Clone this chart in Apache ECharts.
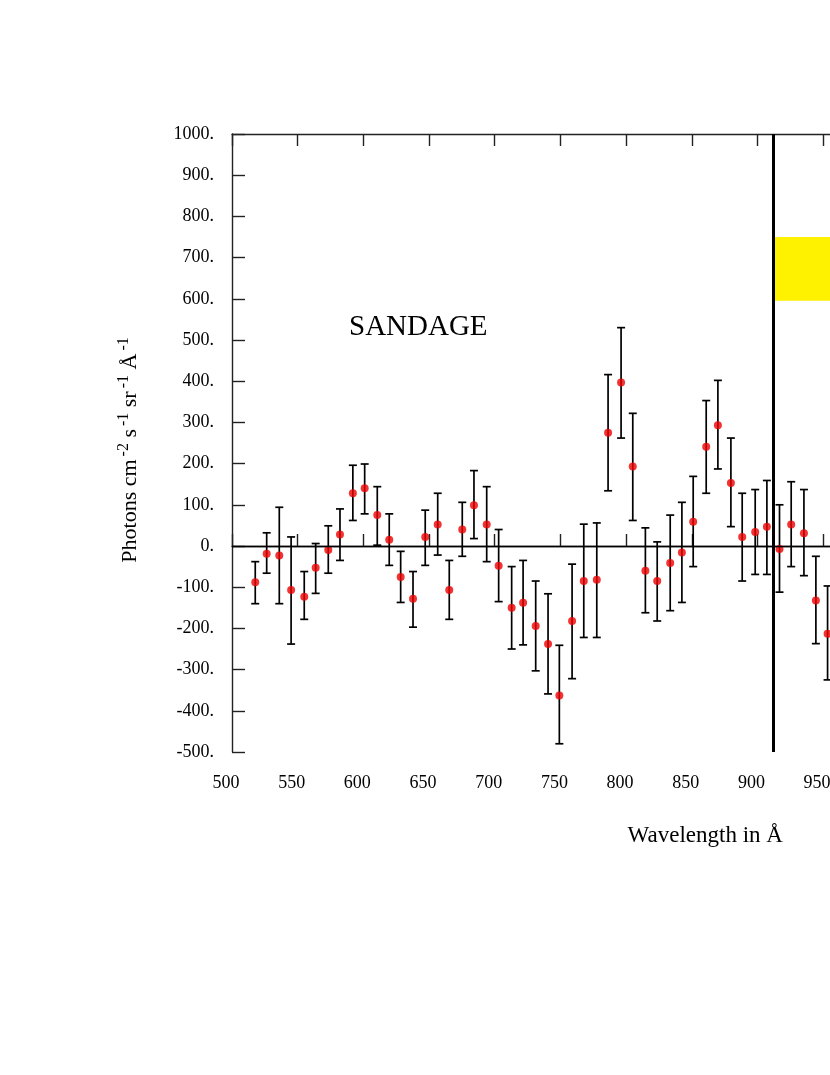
<!DOCTYPE html>
<html>
<head>
<meta charset="utf-8">
<script src="https://cdn.jsdelivr.net/npm/echarts@6/dist/echarts.min.js"></script>
<style>
html, body { margin: 0; padding: 0; background: #fff; }
#main { width: 830px; height: 1075px; }
</style>
</head>
<body>
<div id="main"></div>
<script>
// wavelength (Angstrom) of each point
var wavelength = [517.7, 526.4, 536.0, 545.0, 555.0, 563.7, 573.3, 582.2, 592.0, 601.0,
  610.6, 619.7, 628.4, 637.8, 647.1, 656.6, 665.4, 675.3, 684.2, 693.9,
  703.0, 712.9, 721.6, 731.2, 740.6, 749.2, 758.9, 767.8, 777.7, 786.3,
  796.2, 805.1, 814.7, 823.7, 833.6, 842.5, 851.1, 861.0, 869.9, 879.8,
  888.4, 898.3, 907.2, 916.8, 925.7, 935.4, 944.5, 953.4];
// measured value
var flux = [-88, -19, -23, -107, -123, -53, -10, 28, 128, 140,
  75, 15, -75, -128, 22, 52, -107, 40, 99, 52,
  -48, -150, -138, -194, -238, -363, -182, -85, -82, 275,
  397, 193, -60, -85, -41, -16, 59, 241, 293, 153,
  22, 34, 47, -7, 52, 31, -132, -213];
// error bar ends
var upper = [-38, 32, 94, 22, -62, 6, 49, 90, 196, 199,
  144, 78, -13, -62, 87, 128, -35, 106, 183, 144,
  40, -50, -35, -85, -116, -241, -44, 53, 56, 416,
  530, 322, 44, 10, 75, 106, 169, 353, 402, 262,
  128, 137, 159, 100, 156, 137, -25, -97];
var lower = [-140, -66, -140, -238, -178, -115, -66, -35, 62, 78,
  2, -47, -137, -197, -47, -22, -178, -25, 18, -38,
  -135, -250, -240, -303, -359, -480, -322, -222, -222, 134,
  262, 62, -162, -182, -157, -137, -50, 128, 187, 47,
  -85, -69, -69, -112, -50, -72, -237, -325];
var lymanLimit = 912;
var yellowBox = [[912, 595], [1200, 750]];

var serif = 'Liberation Serif';
var myChart = echarts.init(document.getElementById('main'));

var points = [], bars = [];
for (var i = 0; i < wavelength.length; i++) {
  points.push([wavelength[i], flux[i]]);
  bars.push([wavelength[i], lower[i], upper[i]]);
}

var axisColor = '#222';
var option = {
  animation: false,
  grid: { left: 232, top: 134, height: 618, width: 919.5, outerBoundsMode: 'none', containLabel: false },
  xAxis: [{
    type: 'value', min: 500, max: 1200, interval: 50,
    position: 'bottom',
    axisLine: { lineStyle: { color: axisColor, width: 1.4 } },
    axisTick: { inside: true, length: 12, lineStyle: { color: axisColor, width: 1.4 } },
    axisLabel: {
      margin: 22, fontFamily: serif, fontSize: 18, color: '#000', padding: [0, 12, 0, 0],
      formatter: function (v) { return String(v); }
    },
    splitLine: { show: false },
    name: 'Wavelength in Å', nameLocation: 'middle', nameGap: 72,
    nameTextStyle: { fontFamily: serif, fontSize: 23, color: '#000', padding: [0, 0, 0, 27] }
  }, {
    type: 'value', min: 500, max: 1200, interval: 50,
    position: 'top',
    axisLine: { lineStyle: { color: axisColor, width: 1.4 } },
    axisTick: { inside: true, length: 12, lineStyle: { color: axisColor, width: 1.4 } },
    axisLabel: { show: false },
    splitLine: { show: false }
  }],
  yAxis: {
    type: 'value', min: -500, max: 1000, interval: 100,
    axisLine: { show: true, lineStyle: { color: axisColor, width: 1.4 } },
    axisTick: { show: true, inside: true, length: 13, lineStyle: { color: axisColor, width: 1.4 } },
    axisLabel: {
      margin: 18, fontFamily: serif, fontSize: 18, color: '#000',
      formatter: function (v) { return v + '.'; }
    },
    splitLine: { show: false },
    name: 'Photons cm{s|-2} s{s|-1} sr{s|-1} Å{s|-1}',
    nameLocation: 'middle', nameGap: 88, nameRotate: 90,
    nameTextStyle: {
      fontFamily: serif, fontSize: 22, color: '#000', padding: [0, 14, 0, 0],
      rich: {
        s: { fontFamily: serif, fontSize: 16, color: '#000', verticalAlign: 'top', padding: [0, 0, 12, 3] }
      }
    }
  },
  graphic: [{
    type: 'text', left: 349, top: 313,
    style: { text: 'SANDAGE', font: '29px "Liberation Serif"', fill: '#000' }
  }],
  series: [{
    type: 'line', data: [], xAxisIndex: 0,
    markArea: {
      silent: true,
      itemStyle: { color: '#fff200', opacity: 1 },
      data: [[{ coord: yellowBox[0] }, { coord: yellowBox[1] }]]
    },
    markLine: {
      silent: true, symbol: 'none', label: { show: false },
      data: [
        { yAxis: 0, lineStyle: { color: '#000', width: 1.3, type: 'solid' } },
        { xAxis: lymanLimit, lineStyle: { color: '#000', width: 3, type: 'solid' } }
      ]
    }
  }, {
    type: 'custom', data: bars, z: 3,
    renderItem: function (params, api) {
      var x = api.value(0);
      var lo = api.coord([x, api.value(1)]);
      var hi = api.coord([x, api.value(2)]);
      var w = 4;
      var st = { stroke: '#000', lineWidth: 1.7 };
      return {
        type: 'group',
        children: [
          { type: 'line', shape: { x1: lo[0], y1: lo[1], x2: hi[0], y2: hi[1] }, style: st },
          { type: 'line', shape: { x1: lo[0] - w, y1: lo[1], x2: lo[0] + w, y2: lo[1] }, style: st },
          { type: 'line', shape: { x1: hi[0] - w, y1: hi[1], x2: hi[0] + w, y2: hi[1] }, style: st }
        ]
      };
    }
  }, {
    type: 'scatter', data: points, z: 4,
    symbol: 'circle', symbolSize: 8,
    itemStyle: { color: '#ee0000' }
  }]
};
myChart.setOption(option);
</script>
</body>
</html>
